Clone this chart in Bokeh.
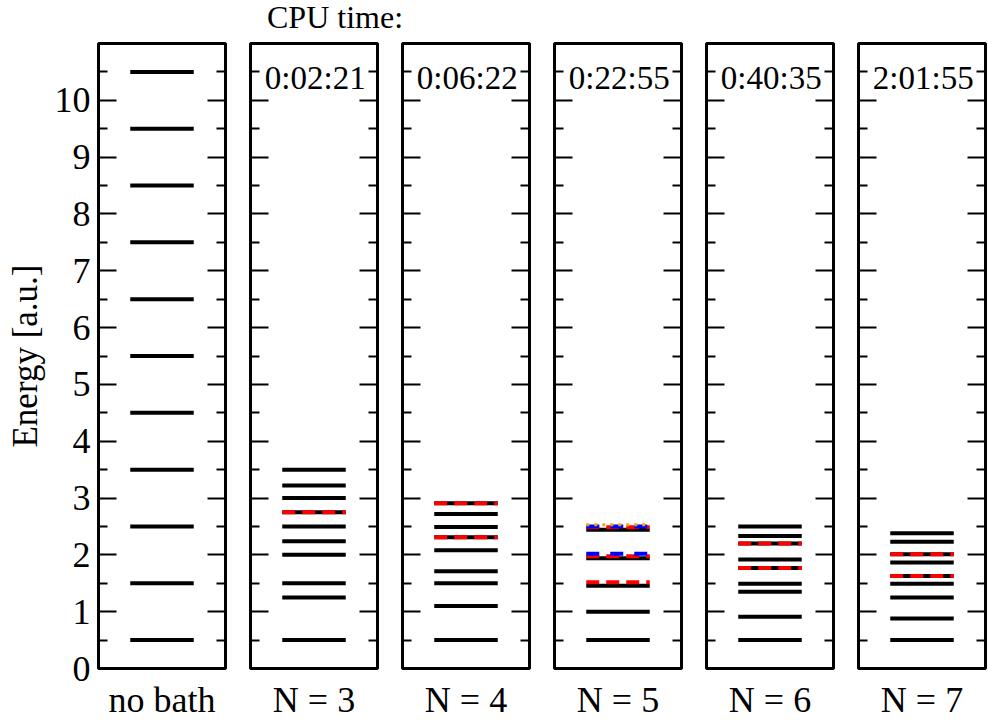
from bokeh.plotting import figure
from bokeh.models import Range1d, FixedTicker, LinearAxis, CustomJSTickFormatter, Div, Label, ColumnDataSource
from bokeh.layouts import row, column
from bokeh.embed import file_html
from bokeh.resources import INLINE

# ---------------- data ----------------
panel_labels = ["no bath", "N = 3", "N = 4", "N = 5", "N = 6", "N = 7"]
cpu_times = ["", "0:02:21", "0:06:22", "0:22:55", "0:40:35", "2:01:55"]

nobath_levels = [0.5, 1.5, 2.5, 3.5, 4.5, 5.5, 6.5, 7.5, 8.5, 9.5, 10.5]
n3_levels = [0.5, 1.25, 1.5, 2.0, 2.24, 2.5, 2.75, 3.0, 3.22, 3.5]
n4_levels = [0.5, 1.1, 1.5, 1.71, 2.08, 2.31, 2.49, 2.72, 2.91]
n5_levels = [0.5, 1.0, 1.455, 1.94, 2.44]
n6_levels = [0.5, 0.91, 1.35, 1.49, 1.77, 1.92, 2.2, 2.33, 2.5]
n7_levels = [0.5, 0.88, 1.25, 1.49, 1.63, 1.865, 2.01, 2.23, 2.38]

nobath_red = []
n3_red = [2.75]
n4_red = [2.31, 2.91]
n5_red = [1.52, 1.975, 2.485]
n6_red = [1.77, 2.2]
n7_red = [1.63, 2.01]

n5_blue = [2.02, 2.50]
n5_orange = [2.53]

y_major_ticks = [0, 1, 2, 3, 4, 5, 6, 7, 8, 9, 10]
y_minor_ticks = [0.5, 1.5, 2.5, 3.5, 4.5, 5.5, 6.5, 7.5, 8.5, 9.5, 10.5]

black_sets = [nobath_levels, n3_levels, n4_levels, n5_levels, n6_levels, n7_levels]
red_sets = [nobath_red, n3_red, n4_red, n5_red, n6_red, n7_red]
blue_sets = [[], [], [], n5_blue, [], []]
orange_sets = [[], [], [], n5_orange, [], []]

# ---------------- style / layout ----------------
FONT = "Liberation Serif"
HEADER_H = 36
FIG_H = 686
B_TOP = 7
B_BOTTOM = 54
widths = [237, 152, 152, 152, 152, 143]
b_left = [98, 13, 13, 13, 13, 13]
b_right = [12, 12, 12, 12, 12, 3]
X0, X1 = 0.25, 0.75
TIME_Y = 10.4

empty_fmt = CustomJSTickFormatter(code="return ''")


def style_y_axis(ax, labels):
    ax.ticker = FixedTicker(ticks=y_major_ticks, minor_ticks=y_minor_ticks)
    ax.major_tick_in = 18
    ax.major_tick_out = 0
    ax.minor_tick_in = 9
    ax.minor_tick_out = 0
    ax.major_tick_line_width = 2
    ax.minor_tick_line_width = 2
    ax.major_tick_line_color = "black"
    ax.minor_tick_line_color = "black"
    ax.axis_line_color = None
    if labels:
        ax.major_label_text_font = FONT
        ax.major_label_text_font_size = "36px"
        ax.major_label_text_color = "black"
        ax.major_label_standoff = 8
    else:
        ax.formatter = empty_fmt
        ax.major_label_standoff = 0


figs = []
for i in range(6):
    p = figure(width=widths[i], height=FIG_H, x_range=Range1d(0, 1), y_range=Range1d(0, 11),
               output_backend="svg", toolbar_location=None,
               min_border_left=b_left[i], min_border_right=b_right[i],
               min_border_top=B_TOP, min_border_bottom=B_BOTTOM)
    p.grid.visible = False
    p.outline_line_color = "black"
    p.outline_line_width = 3
    p.outline_line_alpha = 1.0
    p.background_fill_color = "white"
    p.border_fill_color = "white"

    xa = p.xaxis[0]
    xa.ticker = FixedTicker(ticks=[])
    xa.axis_line_color = None
    xa.major_tick_line_color = None
    xa.minor_tick_line_color = None
    xa.axis_label = panel_labels[i]
    xa.axis_label_text_font = FONT
    xa.axis_label_text_font_size = "36px"
    xa.axis_label_text_font_style = "normal"
    xa.axis_label_text_color = "black"
    xa.axis_label_standoff = 11

    ya = p.yaxis[0]
    style_y_axis(ya, labels=(i == 0))
    if i == 0:
        ya.axis_label = "Energy [a.u.]"
        ya.axis_label_text_font = FONT
        ya.axis_label_text_font_size = "35px"
        ya.axis_label_text_font_style = "normal"
        ya.axis_label_text_color = "black"
        ya.axis_label_standoff = 7

    ra = LinearAxis()
    style_y_axis(ra, labels=False)
    p.add_layout(ra, "right")

    src_b = ColumnDataSource(dict(y=black_sets[i]))
    p.segment(x0=X0, x1=X1, y0="y", y1="y", source=src_b, line_color="black",
              line_width=4, line_cap="butt")
    if red_sets[i]:
        src_r = ColumnDataSource(dict(y=red_sets[i]))
        p.segment(x0=X0, x1=X1, y0="y", y1="y", source=src_r, line_color="#ff0000",
                  line_width=4, line_dash="13 7", line_cap="butt")
    if blue_sets[i]:
        src_bl = ColumnDataSource(dict(y=blue_sets[i]))
        p.segment(x0=X0, x1=X1, y0="y", y1="y", source=src_bl, line_color="#0000ff",
                  line_width=4, line_dash="13 11", line_cap="butt")
    if orange_sets[i]:
        src_o = ColumnDataSource(dict(y=orange_sets[i]))
        p.segment(x0=X0, x1=X1, y0="y", y1="y", source=src_o, line_color="#ffa500",
                  line_width=3, line_dash="3 5", line_cap="butt")

    if cpu_times[i]:
        p.add_layout(Label(x=0.51, y=TIME_Y, text=cpu_times[i], text_align="center",
                           text_baseline="alphabetic", text_font=FONT,
                           text_font_size="33px", text_color="black"))
    figs.append(p)

header = Div(
    text=('<div style="font-family:\'Liberation Serif\';font-size:32px;line-height:35px;'
          'margin:0;padding-left:267px;white-space:nowrap;color:black">'
          'CPU time:</div>'),
    width=988, height=HEADER_H, margin=0)

layout = column(header, row(*figs, spacing=0), spacing=0)

open("out.html", "w").write(file_html(layout, INLINE))
